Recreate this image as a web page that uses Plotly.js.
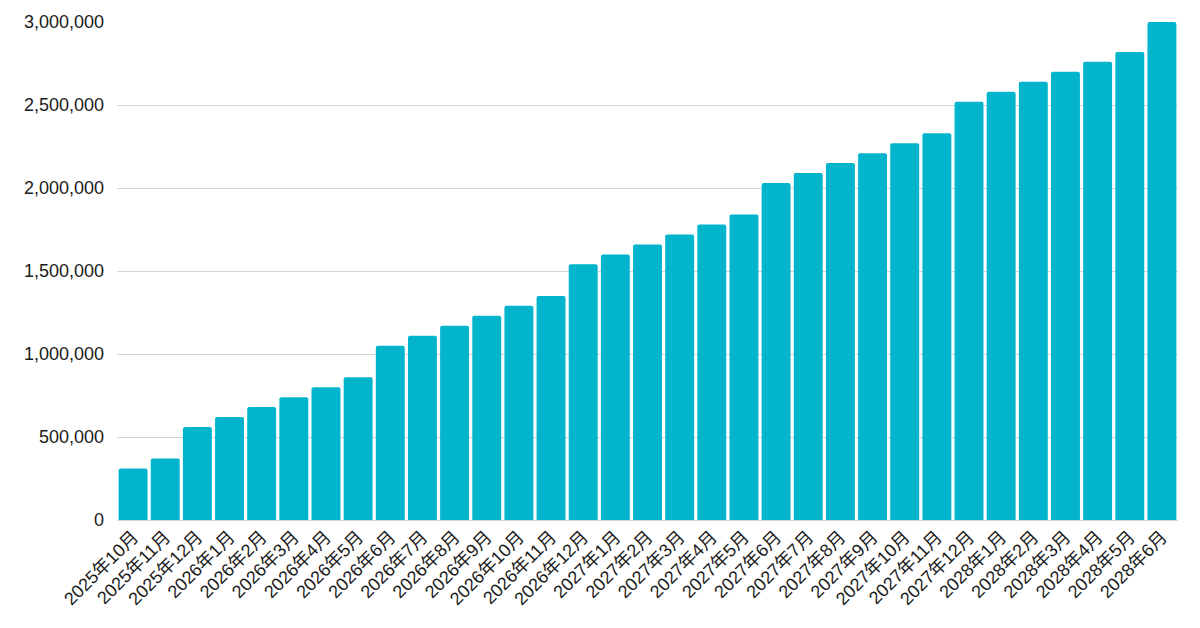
<!DOCTYPE html>
<html>
<head>
<meta charset="utf-8">
<script src="https://cdn.plot.ly/plotly-3.0.1.min.js"></script>
<style>html,body{margin:0;padding:0;background:#fff;}#chart{width:1200px;height:628px;}</style>
</head>
<body>
<div id="chart"></div>
<script>
const months = ["2025年10月","2025年11月","2025年12月","2026年1月","2026年2月","2026年3月","2026年4月","2026年5月","2026年6月","2026年7月","2026年8月","2026年9月","2026年10月","2026年11月","2026年12月","2027年1月","2027年2月","2027年3月","2027年4月","2027年5月","2027年6月","2027年7月","2027年8月","2027年9月","2027年10月","2027年11月","2027年12月","2028年1月","2028年2月","2028年3月","2028年4月","2028年5月","2028年6月"];
const values = [310000,370000,560000,620000,680000,740000,800000,860000,1050000,1110000,1170000,1230000,1290000,1350000,1540000,1600000,1660000,1720000,1780000,1840000,2030000,2090000,2150000,2210000,2270000,2330000,2520000,2580000,2640000,2700000,2760000,2820000,3000000];
const yTicks = [0,500000,1000000,1500000,2000000,2500000,3000000];
const yTickLabels = ["0","500,000","1,000,000","1,500,000","2,000,000","2,500,000","3,000,000"];

const fontFam = '"Liberation Sans", "Noto Sans CJK JP", Arial, sans-serif';
Plotly.newPlot('chart', [{
  type: 'bar',
  x: months,
  y: values,
  marker: {color: '#02B5CC', cornerradius: 2},
  hoverinfo: 'x+y'
}], {
  width: 1200, height: 628,
  margin: {l: 117, r: 22, t: 22, b: 108},
  paper_bgcolor: '#ffffff',
  plot_bgcolor: '#ffffff',
  bargap: 0.1,
  showlegend: false,
  font: {family: fontFam, size: 18, color: '#1a1a1a'},
  xaxis: {
    type: 'category',
    tickangle: -45,
    tickfont: {family: fontFam, size: 18, color: '#1a1a1a'},
    showgrid: false,
    showline: false,
    zeroline: false,
    ticks: '',
    ticklabelstandoff: 2,
    automargin: false
  },
  yaxis: {
    range: [0, 3000000],
    tickvals: yTicks,
    ticktext: yTickLabels,
    tickfont: {family: fontFam, size: 18, color: '#1a1a1a'},
    showgrid: true,
    gridcolor: '#d4d4d4',
    gridwidth: 1,
    zeroline: true,
    zerolinecolor: '#d4d4d4',
    showline: false,
    ticks: '',
    ticklabelstandoff: 12,
    automargin: false
  }
}, {displayModeBar: false, staticPlot: true});
</script>
</body>
</html>
